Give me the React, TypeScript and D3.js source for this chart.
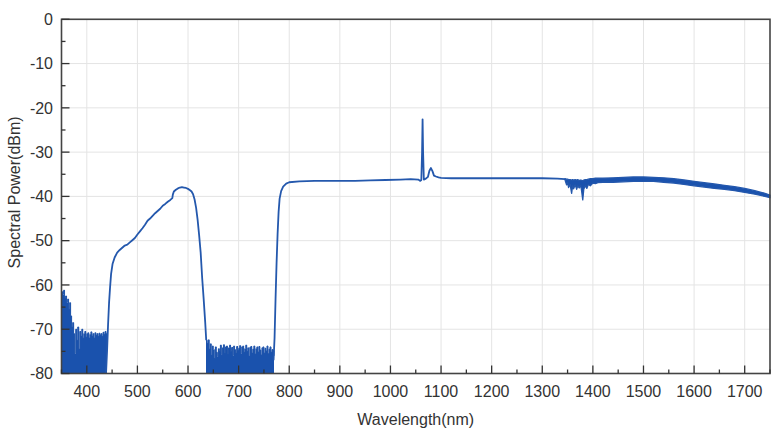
import React from "react";
import * as d3 from "d3";

// Main spectrum segments (wavelength nm, power dBm)
const segAWl = [438, 440, 442, 444, 446, 448, 451, 455, 460, 465, 470, 475, 480, 485, 490, 495, 500, 505, 510, 515, 520, 525, 530, 535, 540, 545, 550, 555, 560, 565, 569, 570, 572, 576, 580, 584, 588, 592, 596, 600, 604, 607, 610, 613, 616, 619, 622, 625, 628, 631, 634, 636];
const segAPw = [-80, -75, -69, -64, -60.5, -57.5, -55.2, -53.8, -52.7, -52.1, -51.6, -51.1, -50.9, -50.4, -49.9, -49.4, -48.6, -47.9, -47.2, -46.4, -45.5, -45.0, -44.4, -43.8, -43.3, -42.8, -42.1, -41.7, -41.2, -40.8, -40.4, -39.6, -38.9, -38.5, -38.2, -38.0, -37.9, -38.0, -38.1, -38.3, -38.6, -38.9, -39.5, -40.7, -42.6, -45.3, -48.8, -52.7, -58.5, -63.3, -68.5, -72.5];

const segBWl = [769, 771, 773, 775, 777, 779, 781, 784, 788, 794, 800, 820, 850, 880, 900, 930, 960, 990, 1020, 1040, 1055, 1059, 1061, 1062.5, 1063.5, 1064.5, 1066, 1070, 1074, 1077, 1080, 1083, 1086, 1090, 1095, 1100, 1120, 1150, 1200, 1250, 1300, 1330, 1345];
const segBPw = [-77, -72, -63, -55, -48.5, -43.5, -40.5, -38.8, -37.8, -37.1, -36.8, -36.6, -36.5, -36.5, -36.5, -36.5, -36.4, -36.3, -36.2, -36.1, -36.2, -36.5, -36.3, -30, -22.6, -30, -36.2, -36.0, -35.6, -34.2, -33.6, -34.3, -35.3, -35.5, -35.7, -35.8, -35.9, -35.9, -35.9, -35.9, -35.9, -36.0, -36.1];

// Noise floor regions: upper envelope of the noise (filled down to -80 dBm)
const noiseLeftWl = [350, 352, 354, 356, 358, 360, 362, 364, 366, 368, 370, 372, 374, 376, 378, 380, 382, 384, 386, 388, 390, 392, 394, 396, 398, 400, 402, 404, 406, 408, 410, 412, 414, 416, 418, 420, 422, 424, 426, 428, 430, 432, 434, 436, 438, 440];
const noiseLeftPw = [-61.5, -62.2, -61.2, -63, -62.5, -64, -63.2, -65.5, -64, -67, -69.5, -68.5, -71, -75.5, -70, -72.5, -69.5, -74.5, -70.5, -71.5, -70, -72, -71, -70.5, -71.8, -71, -70.8, -72, -71.2, -70.6, -71.5, -71, -72, -70.8, -71.4, -71, -71.6, -70.9, -71.3, -71, -71.6, -70.7, -71.2, -70.5, -71, -71];

const noiseMidWl = [636, 638, 640, 642, 644, 646, 648, 650, 652, 654, 656, 658, 660, 662, 664, 666, 668, 670, 672, 674, 676, 678, 680, 682, 684, 686, 688, 690, 692, 694, 696, 698, 700, 702, 704, 706, 708, 710, 712, 714, 716, 718, 720, 722, 724, 726, 728, 730, 732, 734, 736, 738, 740, 742, 744, 746, 748, 750, 752, 754, 756, 758, 760, 762, 764, 766, 768, 770];
const noiseMidPw = [-72.5, -73.2, -72.4, -74.5, -73.3, -75.8, -73.8, -74.6, -76.6, -74, -75.2, -76.2, -74.4, -75, -73.6, -75.8, -74.2, -73.5, -75.4, -74, -73.8, -75.6, -74.2, -73.6, -75, -74.1, -76, -73.8, -74.6, -75.4, -73.9, -74.8, -74.3, -73.7, -75.5, -74, -73.8, -75.2, -74.4, -73.6, -75, -74.2, -76, -74.1, -73.9, -75.3, -74.5, -73.8, -75.6, -74.4, -74, -75.1, -73.9, -74.7, -75.8, -74.2, -74, -75.4, -74.3, -74.9, -73.8, -75.5, -74.5, -74, -75.2, -74.6, -74.8, -76];

// Noisy band at long wavelengths: upper and lower edges
const bandWl = [1345, 1348, 1350, 1352, 1355, 1358, 1360, 1362, 1365, 1368, 1370, 1373, 1376, 1378, 1380, 1382, 1385, 1388, 1391, 1395, 1400, 1405, 1410, 1420, 1440, 1460, 1480, 1500, 1520, 1540, 1560, 1580, 1600, 1620, 1640, 1660, 1680, 1700, 1720, 1740, 1750];
const bandUp = [-36.0, -36.1, -36.1, -36.2, -36.2, -36.3, -36.2, -36.3, -36.2, -36.3, -36.2, -36.4, -36.3, -36.4, -36.5, -36.3, -36.2, -36.2, -36.1, -36.0, -36.0, -35.9, -35.9, -35.9, -35.8, -35.7, -35.6, -35.6, -35.7, -35.8, -36.0, -36.3, -36.6, -36.9, -37.2, -37.5, -37.8, -38.2, -38.7, -39.3, -39.7];
const bandLo = [-36.3, -37.4, -36.9, -38.0, -37.3, -39.3, -37.6, -38.3, -37.4, -38.4, -37.6, -38.1, -37.5, -39.0, -40.8, -38.4, -37.6, -38.2, -37.3, -37.6, -37.0, -37.1, -36.9, -36.8, -36.8, -36.7, -36.6, -36.6, -36.6, -36.8, -37.0, -37.3, -37.6, -37.9, -38.2, -38.4, -38.7, -39.1, -39.5, -40.0, -40.3];

const xTicks = [400, 500, 600, 700, 800, 900, 1000, 1100, 1200, 1300, 1400, 1500, 1600, 1700];
const xMinor = [350, 450, 550, 650, 750, 850, 950, 1050, 1150, 1250, 1350, 1450, 1550, 1650, 1750];
const yTicks = [0, -10, -20, -30, -40, -50, -60, -70, -80];
const yMinor = [-5, -15, -25, -35, -45, -55, -65, -75];

const W = 779;
const H = 429;
const L = 61.5, R = 770, T = 19.3, B = 373.5;

export default function App() {
  const x = d3.scaleLinear().domain([350, 1750]).range([L, R]);
  const y = d3.scaleLinear().domain([-80, 0]).range([B, T]);

  const line = d3
    .line<[number, number]>()
    .x((d) => x(d[0]))
    .y((d) => y(d[1]));

  const segA = segAWl.map((w, i) => [w, segAPw[i]] as [number, number]);
  const segB = segBWl.map((w, i) => [w, segBPw[i]] as [number, number]);

  const noiseArea = d3
    .area<[number, number]>()
    .x((d) => x(d[0]))
    .y0(() => y(-80))
    .y1((d) => y(d[1]))
    .curve(d3.curveStepAfter);

  const noiseTop = d3
    .line<[number, number]>()
    .x((d) => x(d[0]))
    .y((d) => y(d[1]))
    .curve(d3.curveStepAfter);

  const nL = noiseLeftWl.map((w, i) => [w, noiseLeftPw[i]] as [number, number]);
  const nM = noiseMidWl.map((w, i) => [w, noiseMidPw[i]] as [number, number]);

  const bandArea = d3
    .area<number>()
    .x((_, i) => x(bandWl[i]))
    .y0((_, i) => y(bandLo[i]))
    .y1((_, i) => y(bandUp[i]));

  const bandIdx = bandWl.map((_, i) => i);

  const font = '"Liberation Sans", Arial, sans-serif';
  const lineColor = "#2458ad";
  const fillColor = "#1a52ad";

  return (
    <svg
      width={W}
      height={H}
      style={{ position: "fixed", left: 0, top: 0, background: "#fff" }}
      fontFamily={font}
    >
      {/* grid */}
      <g stroke="#e4e4e4" strokeWidth={1}>
        {xTicks.map((t) => (
          <line key={"gx" + t} x1={x(t)} x2={x(t)} y1={T} y2={B} />
        ))}
        {yTicks.map((t) => (
          <line key={"gy" + t} x1={L} x2={R} y1={y(t)} y2={y(t)} />
        ))}
      </g>

      {/* noise floors */}
      <path d={noiseArea(nL) || ""} fill={fillColor} stroke="none" shapeRendering="crispEdges" />
      <path d={noiseArea(nM) || ""} fill={fillColor} stroke="none" shapeRendering="crispEdges" />
      <path d={noiseTop(nL) || ""} fill="none" stroke={lineColor} strokeWidth={1} />
      <path d={noiseTop(nM) || ""} fill="none" stroke={lineColor} strokeWidth={1} />

      {/* main curve */}
      <path d={line(segA) || ""} fill="none" stroke={lineColor} strokeWidth={1.8} strokeLinejoin="round" />
      <path d={line(segB) || ""} fill="none" stroke={lineColor} strokeWidth={1.8} strokeLinejoin="round" />
      <path d={bandArea(bandIdx) || ""} fill={fillColor} stroke={lineColor} strokeWidth={1.3} strokeLinejoin="round" />

      {/* frame */}
      <rect x={L} y={T} width={R - L} height={B - T} fill="none" stroke="#444" strokeWidth={1.6} />

      {/* ticks */}
      <g stroke="#333" strokeWidth={1.3}>
        {xTicks.map((t) => (
          <line key={"tx" + t} x1={x(t)} x2={x(t)} y1={B} y2={B - 8} />
        ))}
        {xMinor.map((t) => (
          <line key={"mx" + t} x1={x(t)} x2={x(t)} y1={B} y2={B - 4} />
        ))}
        {yTicks.map((t) => (
          <line key={"ty" + t} x1={L} x2={L + 8} y1={y(t)} y2={y(t)} />
        ))}
        {yMinor.map((t) => (
          <line key={"my" + t} x1={L} x2={L + 4} y1={y(t)} y2={y(t)} />
        ))}
      </g>

      {/* tick labels */}
      <g fontSize={16} fill="#333">
        {xTicks.map((t) => (
          <text key={"lx" + t} x={x(t)} y={397} textAnchor="middle">
            {t}
          </text>
        ))}
        {yTicks.map((t) => (
          <text key={"ly" + t} x={53} y={y(t)} dy="0.36em" textAnchor="end">
            {t}
          </text>
        ))}
      </g>

      {/* axis titles */}
      <text x={(L + R) / 2} y={425} textAnchor="middle" fontSize={16} fill="#333">
        Wavelength(nm)
      </text>
      <text
        transform={`translate(20, ${(T + B) / 2 - 4}) rotate(-90)`}
        textAnchor="middle"
        fontSize={16}
        fill="#333"
      >
        Spectral Power(dBm)
      </text>
    </svg>
  );
}
